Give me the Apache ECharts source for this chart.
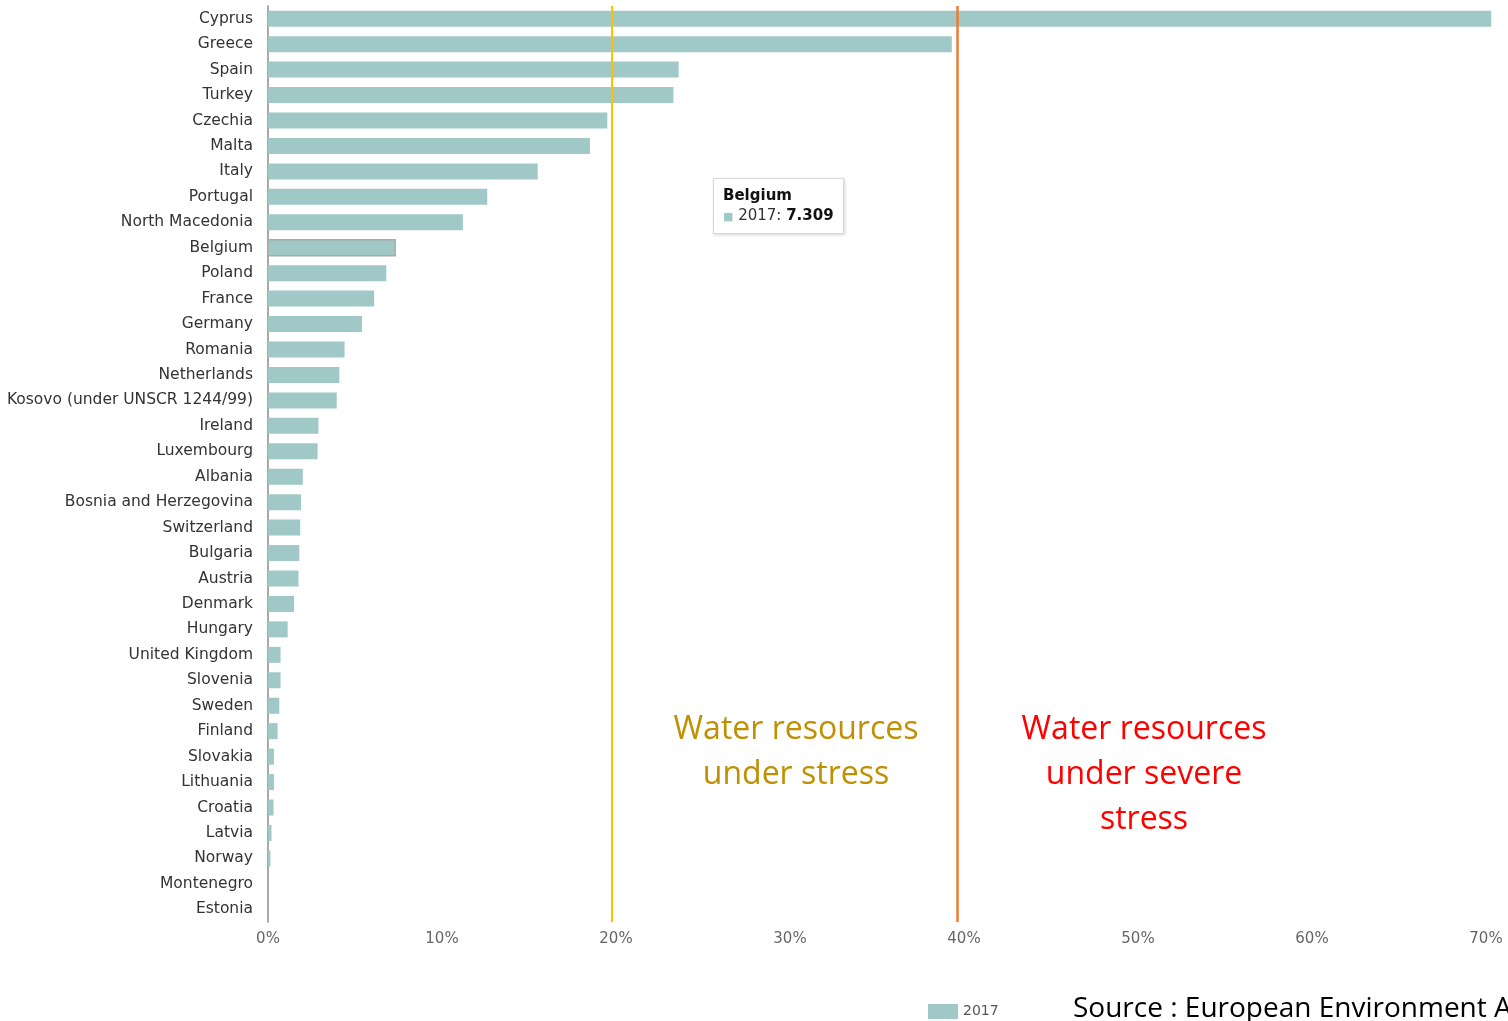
<!DOCTYPE html>
<html>
<head>
<meta charset="utf-8">
<script src="https://cdn.jsdelivr.net/npm/echarts@6/dist/echarts.min.js"></script>
<style>
html,body{margin:0;padding:0;background:#fff;}
#chart{width:1508px;height:1021px;}
</style>
</head>
<body>
<div id="chart"></div>
<script>
const countries = ["Cyprus","Greece","Spain","Turkey","Czechia","Malta","Italy","Portugal","North Macedonia","Belgium","Poland","France","Germany","Romania","Netherlands","Kosovo (under UNSCR 1244/99)","Ireland","Luxembourg","Albania","Bosnia and Herzegovina","Switzerland","Bulgaria","Austria","Denmark","Hungary","United Kingdom","Slovenia","Sweden","Finland","Slovakia","Lithuania","Croatia","Latvia","Norway","Montenegro","Estonia"];
const values2017 = [70.3,39.3,23.6,23.3,19.5,18.5,15.5,12.6,11.2,7.309,6.8,6.1,5.4,4.4,4.1,3.95,2.9,2.85,2.0,1.9,1.85,1.8,1.75,1.5,1.13,0.72,0.72,0.65,0.55,0.34,0.34,0.32,0.2,0.14,0,0];
const xTicks = [0,10,20,30,40,50,60,70];
const stressLine = 19.75;
const severeLine = 39.6;
const seriesName = "2017";
const highlighted = "Belgium";

const barColor = "#9fc8c6";
const chart = echarts.init(document.getElementById('chart'));
const font = "DejaVu Sans, Verdana, sans-serif";
chart.setOption({
  animation:false,
  grid:{left:268,right:22,top:6,bottom:99,containLabel:false},
  tooltip:{
    trigger:'item',
    triggerOn:'none',
    alwaysShowContent:true,
    transitionDuration:0,
    position:[713,178],
    backgroundColor:'#ffffff',
    borderColor:'#d9d9d9',
    borderWidth:1,
    padding:[6,9,6,9],
    extraCssText:'box-shadow:1px 1px 3px rgba(0,0,0,0.18);border-radius:0;',
    textStyle:{fontFamily:font,fontSize:15,color:'#333'},
    formatter:function(p){
      return '<div style="line-height:20px"><b style="color:#111">'+p.name+'</b><br/>'+
        '<span style="color:'+barColor+';font-size:11px">&#9632;</span> '+p.seriesName+': <b style="color:#111">'+p.value.toFixed(3)+'</b></div>';
    }
  },
  legend:{
    data:[seriesName],
    left:928,top:1004,padding:0,
    itemWidth:30,itemHeight:15,itemGap:6,
    icon:'rect',
    textStyle:{fontFamily:font,fontSize:14,color:'#555'}
  },
  xAxis:{
    type:'value',min:0,max:70,interval:10,
    axisLine:{show:false},axisTick:{show:false},splitLine:{show:false},
    axisLabel:{formatter:'{value}%',color:'#666',fontFamily:font,fontSize:15,margin:10}
  },
  yAxis:{
    type:'category',data:countries,inverse:true,
    axisLine:{show:true,lineStyle:{color:'#8c8c8c',width:1.5}},
    axisTick:{show:false},
    axisLabel:{color:'#333',fontFamily:font,fontSize:15.5,margin:15}
  },
  series:[{
    type:'bar',name:seriesName,data:values2017,barWidth:16,clip:false,
    itemStyle:{color:barColor},
    emphasis:{itemStyle:{color:barColor,borderColor:'#a8a8a8',borderWidth:1.5}},
    markLine:{
      silent:true,symbol:['none','none'],label:{show:false},
      data:[
        {xAxis:stressLine,lineStyle:{color:'#ffc000',width:2,type:'solid'}},
        {xAxis:severeLine,lineStyle:{color:'#ed7d31',width:2.5,type:'solid'}}
      ]
    }
  }],
  graphic:[
    {type:'text',x:796,y:707,style:{text:'Water resources\nunder stress',fill:'#bf9000',font:'32px "Open Sans", "Noto Sans", sans-serif',align:'center',lineHeight:45}},
    {type:'text',x:1144,y:707,style:{text:'Water resources\nunder severe\nstress',fill:'#ff0000',font:'32px "Open Sans", "Noto Sans", sans-serif',align:'center',lineHeight:45}},
    {type:'text',x:1073,y:995,style:{text:'Source : European Environment Agency',fill:'#000',font:'28px "Open Sans", "Noto Sans", sans-serif'}}
  ]
});
const idx = countries.indexOf(highlighted);
chart.dispatchAction({type:'highlight',seriesIndex:0,dataIndex:idx});
chart.dispatchAction({type:'showTip',seriesIndex:0,dataIndex:idx});
</script>
</body>
</html>
